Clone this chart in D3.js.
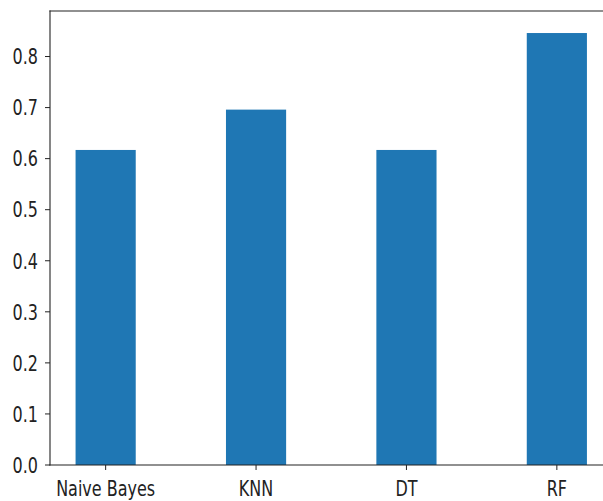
<!DOCTYPE html>
<html>
<head>
<meta charset="utf-8">
<script src="https://cdnjs.cloudflare.com/ajax/libs/d3/7.8.5/d3.min.js"></script>
<style>
  html, body { margin: 0; padding: 0; background: #fff; }
  svg { display: block; }
</style>
</head>
<body>
<script>
// ---------- DATA ----------
var models = ["Naive Bayes", "KNN", "DT", "RF"];
var scores = [0.617, 0.696, 0.617, 0.846];
var yTicks = [0.0, 0.1, 0.2, 0.3, 0.4, 0.5, 0.6, 0.7, 0.8];

// ---------- DIMENSIONS ----------
var w = 603, h = 501;
var plot = { left: 50, top: 11, bottom: 465 };
var barW = 0.4;
var textScaleY = 1.33;   // the text in the picture looks stretched vertically
var fontSize = 16;

var svg = d3.select("body").append("svg")
  .attr("width", w)
  .attr("height", h);

// matplotlib-like limits: x from -0.37 to 3.37, y up to 1.05 * max
var x = d3.scaleLinear()
  .domain([-0.37, 3.37])
  .range([plot.left, plot.left + 3.74 * 150.4]);

var y = d3.scaleLinear()
  .domain([0, d3.max(scores) * 1.051])
  .range([plot.bottom, plot.top]);

// ---------- BARS ----------
svg.selectAll("rect.bar")
  .data(scores)
  .enter()
  .append("rect")
  .attr("class", "bar")
  .attr("x", (d, i) => x(i - barW / 2))
  .attr("y", d => y(d))
  .attr("width", (d, i) => x(i + barW / 2) - x(i - barW / 2))
  .attr("height", d => y(0) - y(d))
  .attr("fill", "#1f77b4");

// ---------- SPINES ----------
var x0 = x.range()[0], x1 = x.range()[1];
var spine = { stroke: "#222", width: 1.1 };
[[x0, plot.top, x0, plot.bottom],
 [x1, plot.top, x1, plot.bottom],
 [x0, plot.top, x1, plot.top],
 [x0, plot.bottom, x1, plot.bottom]].forEach(function (l) {
  svg.append("line")
    .attr("x1", l[0]).attr("y1", l[1])
    .attr("x2", l[2]).attr("y2", l[3])
    .attr("stroke", spine.stroke)
    .attr("stroke-width", spine.width)
    .attr("stroke-linecap", "square");
});

// ---------- Y TICKS ----------
var tickLen = 5;
yTicks.forEach(function (t) {
  var ty = y(t);
  svg.append("line")
    .attr("x1", x0 - tickLen).attr("y1", ty)
    .attr("x2", x0).attr("y2", ty)
    .attr("stroke", "#222")
    .attr("stroke-width", 1);

  svg.append("text")
    .text(d3.format(".1f")(t))
    .attr("transform", "translate(" + (x0 - 12) + "," + ty + ") scale(1," + textScaleY + ")")
    .attr("y", 0.729 * fontSize / 2)
    .attr("text-anchor", "end")
    .attr("font-family", "DejaVu Sans")
    .attr("font-size", fontSize + "px")
    .attr("fill", "#222");
});

// ---------- X TICKS ----------
// labels sit low, as in the picture, but keep descenders inside the frame
models.forEach(function (m, i) {
  var tx = x(i);
  svg.append("line")
    .attr("x1", tx).attr("y1", plot.bottom)
    .attr("x2", tx).attr("y2", plot.bottom + tickLen)
    .attr("stroke", "#222")
    .attr("stroke-width", 1);

  svg.append("text")
    .text(m)
    .attr("transform", "translate(" + tx + "," + 495.5 + ") scale(1," + textScaleY + ")")
    .attr("text-anchor", "middle")
    .attr("font-family", "DejaVu Sans")
    .attr("font-size", fontSize + "px")
    .attr("fill", "#222");
});
</script>
</body>
</html>
